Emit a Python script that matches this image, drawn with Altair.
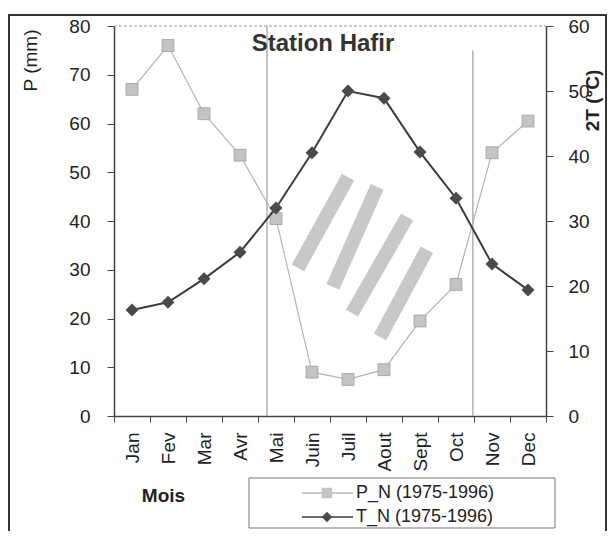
import altair as alt
import pandas as pd

# ---------------- data ----------------
months = ["Jan", "Fev", "Mar", "Avr", "Mai", "Juin", "Juil", "Aout", "Sept", "Oct", "Nov", "Dec"]
precip = [67, 76, 62, 53.5, 40.5, 9, 7.5, 9.5, 19.5, 27, 54, 60.5]        # P (mm)
temp2 = [16.3, 17.5, 21.1, 25.2, 32.0, 40.5, 50.0, 48.9, 40.6, 33.5, 23.4, 19.4]  # right axis

series_names = ["P_N (1975-1996)", "T_N (1975-1996)"]
station = ["Station Hafir"]

# dry-season delimiters (in month units, P scale)
div_x = [4.25, 9.97]
div_top = [80, 75]

# hatching of the dry period (month units, P scale)
hatch_x1 = [5.11, 6.08, 6.61, 7.39]
hatch_y1 = [30.4, 26.5, 21.1, 16.2]
hatch_x2 = [6.50, 7.31, 8.14, 8.69]
hatch_y2 = [49.0, 47.0, 40.8, 34.1]

W, H = 432, 390
FONT = "Liberation Sans"
PCOL = "#b4b4b4"
TCOL = "#3c3c3c"

df = pd.DataFrame({"Mois": months, "P": precip, "T": temp2})
df_div = pd.DataFrame({"x": div_x, "y0": [0, 0], "y1": div_top})
df_hatch = pd.DataFrame({"x": hatch_x1, "y": hatch_y1, "x2": hatch_x2, "y2": hatch_y2})
df_top = pd.DataFrame({"x": [0], "x2": [12], "y": [80]})
df_leg = pd.DataFrame({"label": series_names})
one = pd.DataFrame({"a": [0]})

xq = alt.Scale(domain=[0, 12], nice=False, zero=False)
yq = alt.Scale(domain=[0, 80], nice=False)

band = alt.Scale(type="band", paddingInner=0, paddingOuter=0)

x_axis = alt.Axis(
    title="Mois", labelAngle=270, tickBand="extent", tickSize=6, labelPadding=10,
    labelFontSize=19, labelColor="#222", domainColor="#444", tickColor="#444",
    domainWidth=1.5, titleFontSize=19, titleFontWeight="bold", titleColor="#222",
    titleX=49, titleY=79, titleAngle=0, titleAlign="center", titleBaseline="middle",
)

p_layer = alt.Chart(df).mark_line(
    color=PCOL, strokeWidth=1.2,
    point=alt.OverlayMarkDef(shape="square", size=140, filled=True, color="#c4c4c4",
                             stroke="#a8a8a8", strokeWidth=1),
).encode(
    x=alt.X("Mois:N", sort=months, scale=band, axis=x_axis),
    y=alt.Y("P:Q", scale=alt.Scale(domain=[0, 80], nice=False), axis=alt.Axis(
        title="P (mm)", orient="left", values=list(range(0, 81, 10)), tickSize=7,
        labelPadding=17, labelFontSize=19, labelColor="#222", domainColor="#444",
        tickColor="#444", domainWidth=1.5, grid=False,
        titleFontSize=19, titleFontWeight="normal", titleColor="#222", titleAngle=270,
        titleX=-84, titleY=34, titleAlign="center", titleBaseline="middle")),
)

t_layer = alt.Chart(df).mark_line(
    color=TCOL, strokeWidth=2,
    point=alt.OverlayMarkDef(shape="diamond", size=170, filled=True, color="#4a4a4a"),
).encode(
    x=alt.X("Mois:N", sort=months, scale=band, axis=None),
    y=alt.Y("T:Q", scale=alt.Scale(domain=[0, 60], nice=False), axis=alt.Axis(
        title="2T (°C)", orient="right", values=list(range(0, 61, 10)), tickSize=7,
        labelPadding=15, labelFontSize=19, labelColor="#222", domainColor="#444",
        tickColor="#444", domainWidth=1.5, grid=False,
        titleFontSize=19, titleFontWeight="bold", titleColor="#222", titleAngle=270,
        titleX=46, titleY=74, titleAlign="center", titleBaseline="middle")),
)

div_layer = alt.Chart(df_div).mark_rule(color="#8a8a8a", strokeWidth=1).encode(
    x=alt.X("x:Q", scale=xq, axis=None),
    y=alt.Y("y0:Q", scale=yq, axis=None),
    y2="y1:Q",
)

top_layer = alt.Chart(df_top).mark_rule(color="#9a9a9a", strokeWidth=1, strokeDash=[3, 2]).encode(
    x=alt.X("x:Q", scale=xq, axis=None),
    x2="x2:Q",
    y=alt.Y("y:Q", scale=yq, axis=None),
)

hatch_layer = alt.Chart(df_hatch).mark_rule(color="#c8c8c8", strokeWidth=14, strokeCap="butt").encode(
    x=alt.X("x:Q", scale=xq, axis=None),
    y=alt.Y("y:Q", scale=yq, axis=None),
    x2="x2:Q",
    y2="y2:Q",
)

title_layer = alt.Chart(pd.DataFrame({"t": station})).mark_text(
    font=FONT, fontSize=24, fontWeight="bold", color="#333", align="center", baseline="middle"
).encode(x=alt.value(209), y=alt.value(18), text="t:N")

frame = alt.Chart(one).mark_rect(filled=False, stroke="#333", strokeWidth=2).encode(
    x=alt.value(-105), x2=alt.value(492), y=alt.value(-11), y2=alt.value(560)
)

leg_box = alt.Chart(one).mark_rect(fill="white", stroke="#777", strokeWidth=1).encode(
    x=alt.value(135), x2=alt.value(441), y=alt.value(452), y2=alt.value(502)
)

leg_y = alt.Y("label:N", scale=alt.Scale(type="point", padding=0, domain=series_names, range=[467, 491]), axis=None)
leg_color = alt.Color("label:N", scale=alt.Scale(domain=series_names, range=[PCOL, TCOL]), legend=None)
leg_line = alt.Chart(df_leg).mark_rule(strokeWidth=1.5).encode(
    x=alt.value(188), x2=alt.value(239), y=leg_y, color=leg_color
)
leg_pts = alt.Chart(df_leg).mark_point(filled=True, size=110, opacity=1).encode(
    x=alt.value(213), y=leg_y,
    color=alt.Color("label:N", scale=alt.Scale(domain=series_names, range=["#c4c4c4", "#4a4a4a"]), legend=None),
    shape=alt.Shape("label:N", scale=alt.Scale(domain=series_names, range=["square", "diamond"]), legend=None),
)
leg_text = alt.Chart(df_leg).mark_text(
    font=FONT, fontSize=18, color="#222", align="left", baseline="middle"
).encode(x=alt.value(242), y=leg_y, text="label:N")

chart = alt.layer(
    frame, top_layer, hatch_layer, div_layer, p_layer, t_layer, title_layer,
    leg_box, leg_line, leg_pts, leg_text,
).resolve_scale(
    x="independent", y="independent", color="independent", shape="independent"
).properties(
    width=W, height=H,
    autosize=alt.AutoSizeParams(type="none"),
    padding={"left": 106, "top": 18, "right": 61, "bottom": 115},
).configure(
    font=FONT,
).configure_view(stroke=None)

chart.save("out.html", embed_options={"renderer": "svg", "actions": False})
